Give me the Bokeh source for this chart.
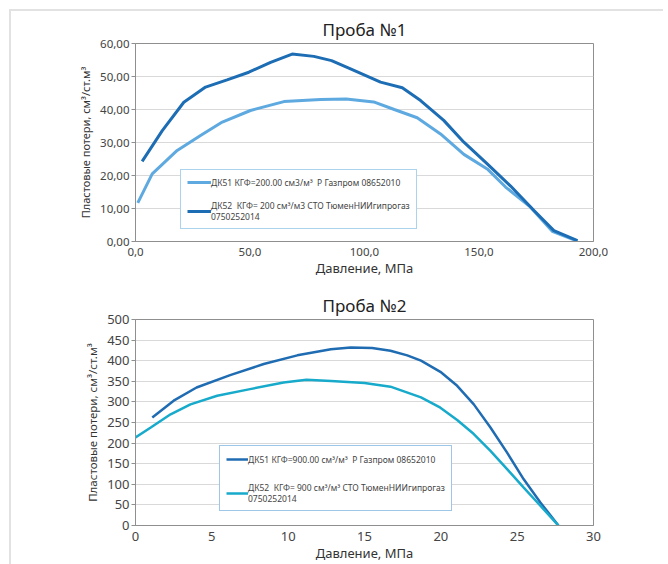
from bokeh.plotting import figure
from bokeh.layouts import column
from bokeh.models import Legend, LegendItem, FixedTicker, Range1d
from bokeh.embed import file_html
from bokeh.resources import INLINE

# ---------------- data: chart 1 ----------------
title1 = "Проба №1"
x1_dk51 = [1, 7.3, 18.2, 28.4, 37.9, 50.2, 64.8, 80.8, 92, 104, 113, 123, 133.2, 143.4, 153.6, 161.6, 172.5, 182, 193]
y1_dk51 = [11.7, 20.5, 27.6, 32.1, 36.2, 39.7, 42.4, 43.0, 43.2, 42.3, 40.0, 37.5, 32.6, 26.4, 22.0, 16.5, 10.4, 3.1, 0.1]
x1_dk52 = [2.9, 11.7, 21.1, 30.6, 40, 49.5, 59, 68.4, 77.9, 85.6, 93.9, 107, 116.5, 124.5, 134.6, 143.4, 153.6, 163.8, 174, 182.7, 193]
y1_dk52 = [24.3, 33.6, 42.2, 46.8, 49.0, 51.3, 54.3, 56.8, 56.1, 54.8, 52.3, 48.3, 46.6, 42.7, 36.7, 30.1, 23.5, 16.8, 9.4, 3.3, 0.3]
label1_dk51 = "ДК51 КГФ=200.00 см3/м³  Р Газпром 08652010"
label1_dk52 = "ДК52  КГФ= 200 см³/м3 СТО ТюменНИИгипрогаз\n0750252014"
x1_ticks = [0, 50, 100, 150, 200]
x1_tick_labels = ["0,0", "50,0", "100,0", "150,0", "200,0"]
y1_ticks = [0, 10, 20, 30, 40, 50, 60]
y1_tick_labels = ["0,00", "10,00", "20,00", "30,00", "40,00", "50,00", "60,00"]

# ---------------- data: chart 2 ----------------
title2 = "Проба №2"
x2_dk51 = [1.1, 2.5, 4.0, 6.2, 8.4, 10.6, 12.8, 14.1, 15.5, 16.7, 17.8, 18.7, 19.97, 21.07, 22.16, 23.25, 24.34, 25.43, 26.52, 27.7]
y2_dk51 = [262, 303, 335, 365, 392, 413, 428, 432, 431, 424, 413, 400, 373, 339, 294, 238, 177, 112, 56, 0]
x2_dk52 = [0, 1.0, 2.3, 3.6, 5.35, 7.5, 9.7, 11.2, 12.8, 15.0, 16.7, 18.7, 19.97, 21.07, 22.16, 23.25, 24.34, 25.43, 26.52, 27.7]
y2_dk52 = [214, 238, 270, 294, 315, 331, 347, 354, 351, 346, 337, 311, 286, 256, 222, 181, 137, 92, 48, 0]
label2_dk51 = "ДК51 КГФ=900.00 см³/м³  Р Газпром 08652010"
label2_dk52 = "ДК52  КГФ= 900 см³/м³ СТО ТюменНИИгипрогаз\n0750252014"
x2_ticks = [0, 5, 10, 15, 20, 25, 30]
x2_tick_labels = ["0", "5", "10", "15", "20", "25", "30"]
y2_ticks = [0, 50, 100, 150, 200, 250, 300, 350, 400, 450, 500]
y2_tick_labels = [str(v) for v in y2_ticks]

x_axis_label = "Давление, МПа"
y_axis_label = "Пластовые потери, см³/ст.м³"

FONT = "Noto Sans"


def style(p, xt, xtl, yt, ytl, tick_size, ylab_size):
    p.title.text_font = FONT
    p.title.text_font_size = "17px"
    p.title.text_font_style = "normal"
    p.title.text_color = "#222222"
    p.title.align = "center"
    p.title.standoff = 6
    p.outline_line_color = "#8f8f8f"
    p.outline_line_width = 1
    p.xgrid.grid_line_color = None
    p.ygrid.grid_line_color = "#d9d9d9"
    p.ygrid.grid_line_width = 1
    p.xaxis.ticker = FixedTicker(ticks=xt)
    p.yaxis.ticker = FixedTicker(ticks=yt)
    p.xaxis.major_label_overrides = {v: s for v, s in zip(xt, xtl)}
    p.yaxis.major_label_overrides = {v: s for v, s in zip(yt, ytl)}
    for ax in (p.xaxis[0], p.yaxis[0]):
        ax.axis_line_color = "#8f8f8f"
        ax.major_tick_line_color = "#8f8f8f"
        ax.minor_tick_line_color = None
        ax.major_tick_in = 0
        ax.major_tick_out = 4
        ax.major_label_text_font = FONT
        ax.major_label_text_font_size = tick_size
        ax.major_label_text_color = "#444444"
        ax.major_label_standoff = 2
        ax.axis_label_text_font = FONT
        ax.axis_label_text_font_style = "normal"
        ax.axis_label_text_color = "#333333"
        ax.axis_label_standoff = 4
    p.xaxis.major_tick_line_color = None
    p.xaxis.major_tick_out = 0
    p.xaxis.major_label_standoff = 6
    p.xaxis.axis_label_standoff = 0
    p.xaxis.axis_label_text_font_size = "13px"
    p.yaxis.axis_label_text_font_size = ylab_size


# ---------------- chart 1 ----------------
p1 = figure(title=title1, output_backend="svg", toolbar_location=None,
            frame_width=458, frame_height=198,
            min_border_left=124, min_border_right=70, min_border_top=32, min_border_bottom=47,
            x_range=Range1d(0, 200), y_range=Range1d(0, 60),
            x_axis_label=x_axis_label, y_axis_label=y_axis_label)
style(p1, x1_ticks, x1_tick_labels, y1_ticks, y1_tick_labels, "11.5px", "11px")
r11 = p1.line(x1_dk51, y1_dk51, line_color="#5ea9e0", line_width=3)
r12 = p1.line(x1_dk52, y1_dk52, line_color="#1d6db4", line_width=3)
leg1 = Legend(items=[LegendItem(label=label1_dk51, renderers=[r11]),
                     LegendItem(label=label1_dk52, renderers=[r12])],
              location=(45, 12), border_line_color="#5aa7de", border_line_width=1,
              background_fill_alpha=1, label_text_font=FONT, label_text_font_size="8.5px",
              label_text_color="#444444", glyph_width=24, glyph_height=12, label_height=12,
              label_standoff=0, padding=6, spacing=12, margin=0)
p1.add_layout(leg1, "center")

# ---------------- chart 2 ----------------
p2 = figure(title=title2, output_backend="svg", toolbar_location=None,
            frame_width=458, frame_height=206,
            min_border_left=124, min_border_right=70, min_border_top=29, min_border_bottom=39,
            x_range=Range1d(0, 30), y_range=Range1d(0, 500),
            x_axis_label=x_axis_label, y_axis_label=y_axis_label)
style(p2, x2_ticks, x2_tick_labels, y2_ticks, y2_tick_labels, "13px", "11.5px")
r21 = p2.line(x2_dk51, y2_dk51, line_color="#1f6cb3", line_width=2.5)
r22 = p2.line(x2_dk52, y2_dk52, line_color="#17aacb", line_width=2.5)
leg2 = Legend(items=[LegendItem(label=label2_dk51, renderers=[r21]),
                     LegendItem(label=label2_dk52, renderers=[r22])],
              location=(84, 14), border_line_color="#3d8fd0", border_line_width=1,
              background_fill_alpha=1, label_text_font=FONT, label_text_font_size="8.5px",
              label_text_color="#444444", glyph_width=22, glyph_height=14, label_height=14,
              label_standoff=0, padding=6, spacing=16, margin=0)
p2.add_layout(leg2, "center")

layout = column(p1, p2, spacing=0,
                styles={"margin-left": "9px", "margin-top": "9px",
                        "border-left": "2px solid #e2e2e2", "border-top": "2px solid #e2e2e2"})

open("out.html", "w").write(file_html(layout, INLINE))
